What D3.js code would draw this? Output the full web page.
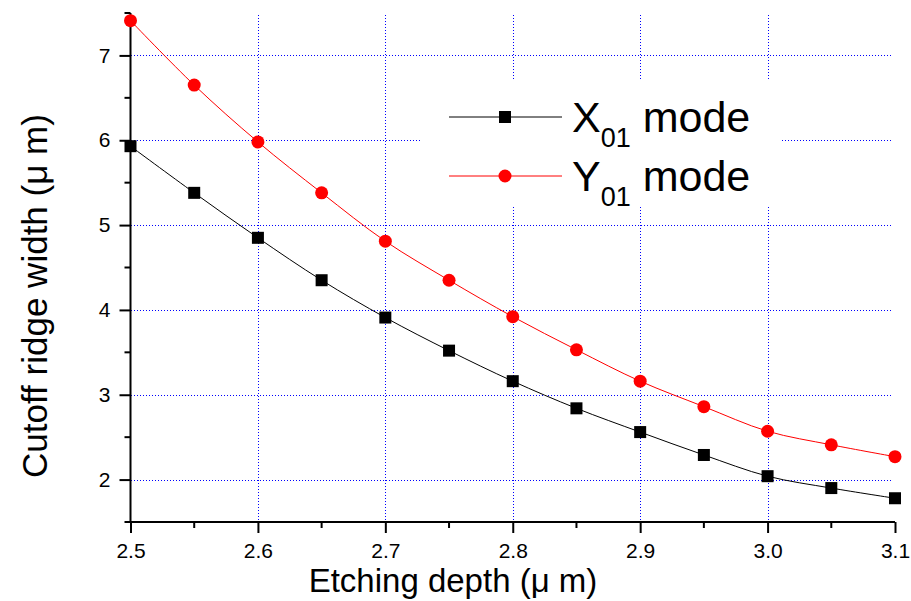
<!DOCTYPE html>
<html>
<head>
<meta charset="utf-8">
<script src="https://cdn.jsdelivr.net/npm/d3@7"></script>
<style>
  body { margin: 0; background: #fff; }
  text { font-family: "Liberation Sans", Arial, sans-serif; fill: #000; }
</style>
</head>
<body>
<svg id="chart" width="911" height="601"></svg>
<script>
// data
const depths = [2.5, 2.55, 2.6, 2.65, 2.7, 2.75, 2.8, 2.85, 2.9, 2.95, 3.0, 3.05, 3.1];
const xMode = [5.93, 5.38, 4.85, 4.35, 3.91, 3.52, 3.16, 2.84, 2.56, 2.29, 2.04, 1.90, 1.78];
const yMode = [7.41, 6.65, 5.98, 5.38, 4.81, 4.35, 3.92, 3.53, 3.16, 2.86, 2.57, 2.41, 2.27];
const xTicks = [2.5, 2.6, 2.7, 2.8, 2.9, 3.0, 3.1];
const xMinor = [2.55, 2.65, 2.75, 2.85, 2.95, 3.05];
const yTicks = [2, 3, 4, 5, 6, 7];
const yMinor = [1.5, 2.5, 3.5, 4.5, 5.5, 6.5, 7.5];

let svg = d3.select("#chart");

let x = d3.scaleLinear().domain([2.5, 3.1]).range([130.5, 895]);
let y = d3.scaleLinear().domain([1.5, 7.5]).range([522, 13]);

// grid (dotted blue), snapped to whole pixels so it stays crisp
let grid = svg.append("g").attr("shape-rendering", "crispEdges");
grid.selectAll("line.gx")
    .data(xTicks.filter(d => d > 2.5 && d < 3.1))
    .enter().append("line")
    .attr("x1", d => Math.round(x(d)) + 0.5).attr("x2", d => Math.round(x(d)) + 0.5)
    .attr("y1", 15).attr("y2", y(1.5))
    .attr("stroke", "#0000ff").attr("stroke-width", 1)
    .attr("stroke-dasharray", "1,2");
grid.selectAll("line.gy")
    .data(yTicks)
    .enter().append("line")
    .attr("x1", x(2.5)).attr("x2", 893)
    .attr("y1", d => Math.round(y(d)) + 0.5).attr("y2", d => Math.round(y(d)) + 0.5)
    .attr("stroke", "#0000ff").attr("stroke-width", 1)
    .attr("stroke-dasharray", "1,2");

// legend background hides the grid behind it
svg.append("rect")
    .attr("x", 420).attr("y", 81)
    .attr("width", 360).attr("height", 126)
    .attr("fill", "#fff");

// axes
let xAxis = svg.append("g")
    .attr("transform", `translate(0,${y(1.5)})`)
    .call(d3.axisBottom(x).tickValues(xTicks).tickFormat(d3.format(".1f")).tickSize(11).tickPadding(10));
xAxis.append("g").selectAll("line")
    .data(xMinor).enter().append("line")
    .attr("x1", d => x(d)).attr("x2", d => x(d))
    .attr("y1", 0).attr("y2", 6)
    .attr("stroke", "#000").attr("stroke-width", 2);

let yAxis = svg.append("g")
    .attr("transform", `translate(${x(2.5)},0)`)
    .call(d3.axisLeft(y).tickValues(yTicks).tickFormat(d3.format("d")).tickSize(11).tickPadding(9));
yAxis.append("g").selectAll("line")
    .data(yMinor).enter().append("line")
    .attr("x1", 0).attr("x2", -6)
    .attr("y1", d => y(d)).attr("y2", d => y(d))
    .attr("stroke", "#000").attr("stroke-width", 2);

[xAxis, yAxis].forEach(function(ax){
    ax.select(".domain").remove();
    ax.selectAll(".tick line").attr("stroke", "#000").attr("stroke-width", 2);
    ax.selectAll(".tick text")
        .style("font-family", "Liberation Sans, Arial, sans-serif")
        .style("font-size", "21px").attr("fill", "#000");
});

// plain axis lines without the end caps
svg.append("line")
    .attr("x1", x(2.5)).attr("x2", x(3.1))
    .attr("y1", y(1.5)).attr("y2", y(1.5))
    .attr("stroke", "#000").attr("stroke-width", 2);
svg.append("line")
    .attr("x1", x(2.5)).attr("x2", x(2.5))
    .attr("y1", y(7.5)).attr("y2", y(1.5) + 1)
    .attr("stroke", "#000").attr("stroke-width", 2);

// series
let line = d3.line().x(d => x(d[0])).y(d => y(d[1])).curve(d3.curveCatmullRom);
let xPts = depths.map((d, i) => [d, xMode[i]]);
let yPts = depths.map((d, i) => [d, yMode[i]]);

svg.append("path").datum(xPts)
    .attr("d", line).attr("fill", "none").attr("stroke", "#000").attr("stroke-width", 1);
svg.append("path").datum(yPts)
    .attr("d", line).attr("fill", "none").attr("stroke", "#ff0000").attr("stroke-width", 1);

svg.append("g").selectAll("rect")
    .data(xPts).enter().append("rect")
    .attr("x", d => x(d[0]) - 6).attr("y", d => y(d[1]) - 6)
    .attr("width", 12).attr("height", 12)
    .attr("fill", "#000");
svg.append("g").selectAll("circle")
    .data(yPts).enter().append("circle")
    .attr("cx", d => x(d[0])).attr("cy", d => y(d[1]))
    .attr("r", 6.5)
    .attr("fill", "#ff0000");

// legend
let legend = svg.append("g");
legend.append("line").attr("x1", 449).attr("x2", 562).attr("y1", 117).attr("y2", 117)
    .attr("stroke", "#000").attr("stroke-width", 1);
legend.append("rect").attr("x", 499).attr("y", 111).attr("width", 12).attr("height", 12).attr("fill", "#000");
legend.append("line").attr("x1", 449).attr("x2", 562).attr("y1", 176).attr("y2", 176)
    .attr("stroke", "#ff0000").attr("stroke-width", 1);
legend.append("circle").attr("cx", 505).attr("cy", 176).attr("r", 6.5).attr("fill", "#ff0000");

function legendLabel(letter, yBase){
    let t = legend.append("text").attr("x", 572).attr("y", yBase).style("font-size", "43px");
    t.append("tspan").text(letter);
    t.append("tspan").attr("dy", 15).style("font-size", "27px").text("01");
    t.append("tspan").attr("dy", -15).text(" mode");
}
legendLabel("X", 132);
legendLabel("Y", 191);

// axis titles
svg.append("text")
    .attr("x", 453).attr("y", 592)
    .attr("text-anchor", "middle")
    .style("font-size", "33px")
    .text("Etching depth (\u03bc m)");
svg.append("text")
    .attr("transform", "translate(47,296) rotate(-90)")
    .attr("text-anchor", "middle")
    .style("font-size", "35px")
    .text("Cutoff ridge width (\u03bc m)");
</script>
</body>
</html>
